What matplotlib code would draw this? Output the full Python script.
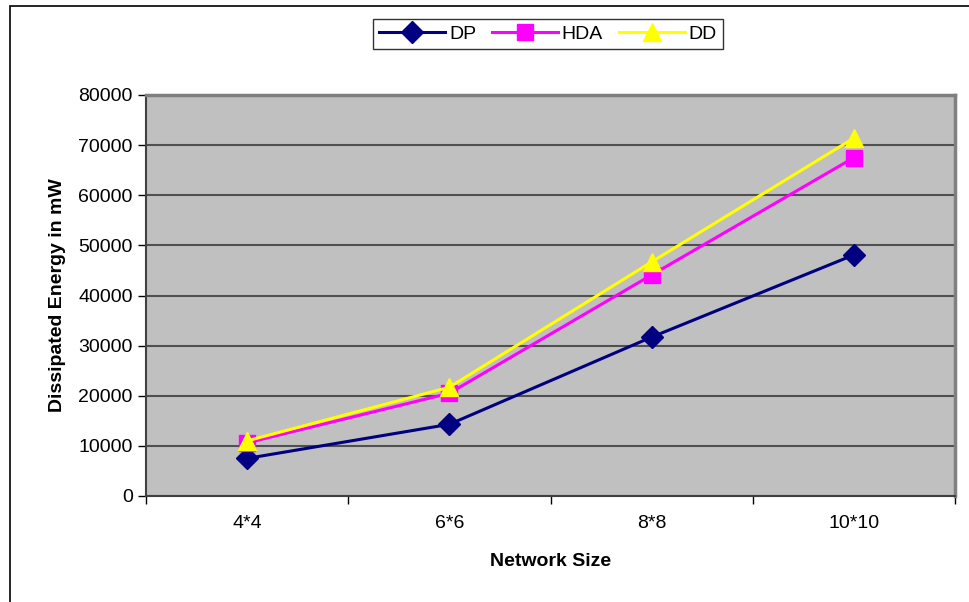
import matplotlib
matplotlib.use('Agg')
import matplotlib.pyplot as plt
from matplotlib.patches import Rectangle

# Datos
categorias = ['4*4', '6*6', '8*8', '10*10']
dp = [7500, 14300, 31700, 48100]
hda = [10600, 20500, 44100, 67500]
dd = [11000, 21700, 46700, 71400]

plt.rcParams['font.family'] = ['Liberation Sans', 'DejaVu Sans']

fig = plt.figure(figsize=(9.69, 6.02), dpi=100)
W, H = 969, 602
ax = fig.add_axes([146 / W, 1 - 496 / H, (955 - 146) / W, (496 - 95) / H])
ax.set_facecolor('#C0C0C0')

x = list(range(len(categorias)))
ax.plot(x, dp, color='#000080', lw=2.2, marker='D', ms=11, label='DP', zorder=3)
ax.plot(x, hda, color='#FF00FF', lw=2.2, marker='s', ms=11, label='HDA', zorder=3)
ax.plot(x, dd, color='#FFFF00', lw=2.2, marker='^', ms=13, label='DD', zorder=4)

ax.set_xlim(-0.5, len(categorias) - 0.5)
ax.set_ylim(0, 80000)
ax.set_yticks(range(0, 80001, 10000))
ax.yaxis.grid(True, color='#505050', lw=1.5)
ax.set_axisbelow(True)

ax.set_xticks(x)
ax.set_xticklabels(categorias, fontsize=14)
ax.set_xticks([i - 0.5 for i in range(len(categorias) + 1)], minor=True)
ax.tick_params(axis='x', which='major', length=0, pad=14)
ax.tick_params(axis='x', which='minor', length=6, width=1, color='black')
ax.tick_params(axis='y', labelsize=14, length=6, width=1, color='black')

for s in ['top', 'right']:
    ax.spines[s].set_color('#808080')
    ax.spines[s].set_linewidth(2.5)
ax.spines['left'].set_color('#404040')
ax.spines['bottom'].set_color('#404040')
ax.spines['left'].set_linewidth(1.5)
ax.spines['bottom'].set_linewidth(1.5)

ax.set_xlabel('Network Size', fontsize=14, fontweight='bold', labelpad=15)
ax.set_ylabel('Dissipated Energy in mW', fontsize=14, fontweight='bold', labelpad=9)

leg = ax.legend(loc='center', bbox_to_anchor=(548 / W, 1 - 34 / H), bbox_transform=fig.transFigure,
                ncol=3, fontsize=14, frameon=True, fancybox=False, edgecolor='black',
                handlelength=3.4, columnspacing=0.8, handletextpad=0.2, borderpad=0.3)
leg.get_frame().set_linewidth(1)

# borde exterior
fig.patches.append(Rectangle((10 / W, -0.1), 1.2, 1 - 6 / H + 0.1, transform=fig.transFigure,
                             fill=False, edgecolor='black', lw=1.2))

plt.savefig('out.png', dpi=100)
